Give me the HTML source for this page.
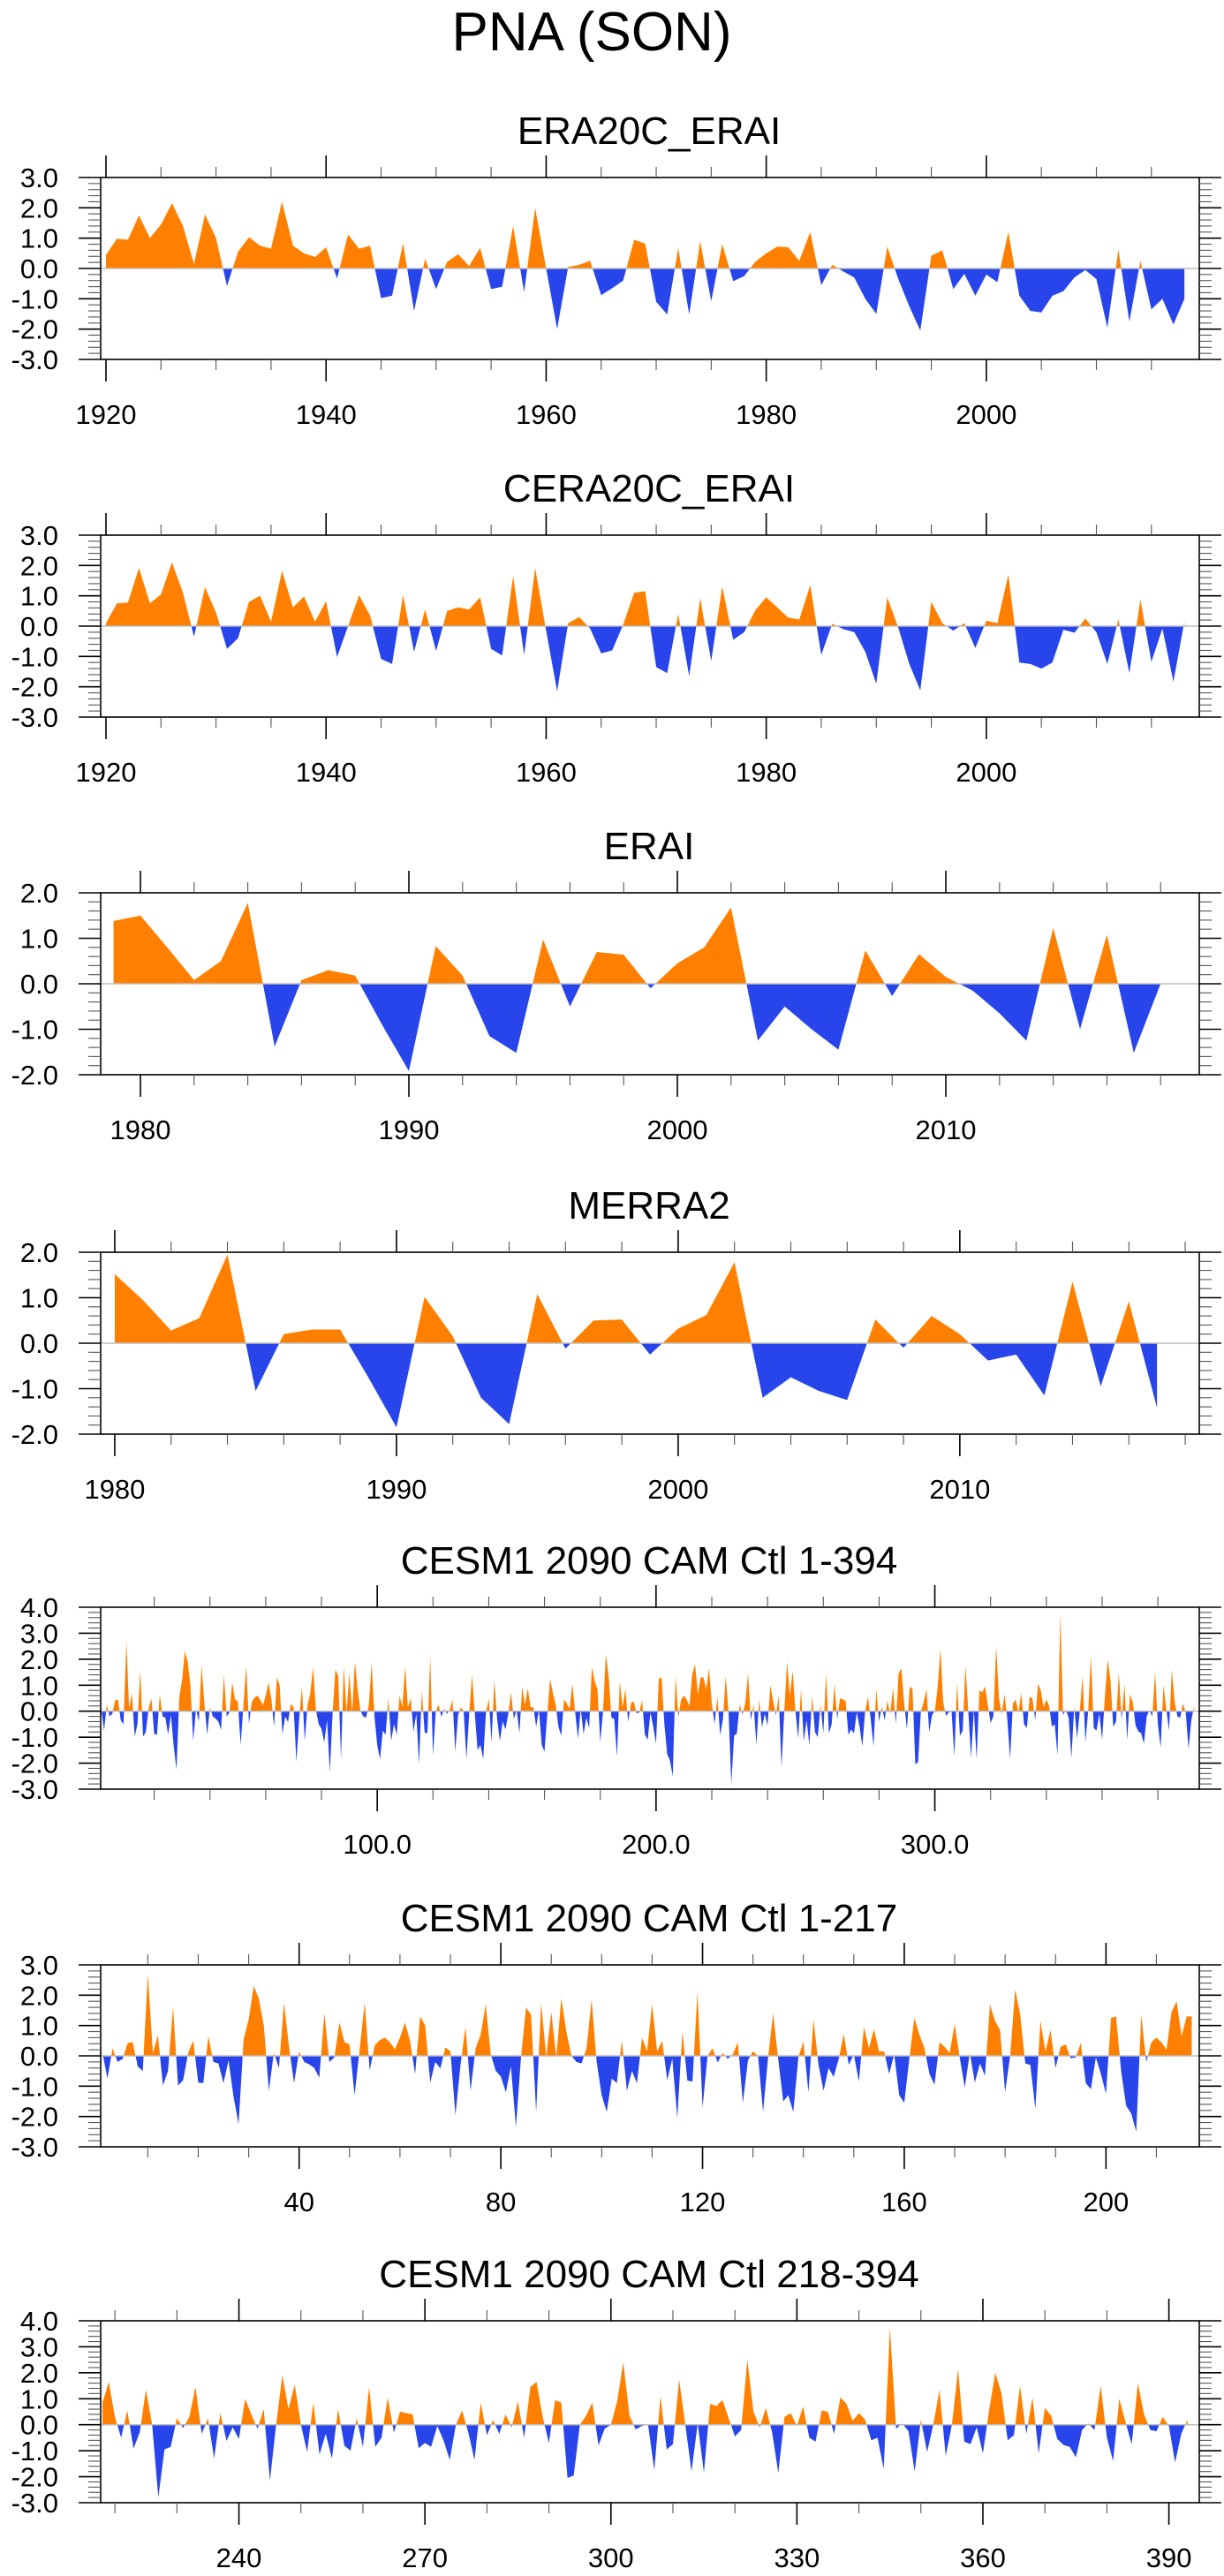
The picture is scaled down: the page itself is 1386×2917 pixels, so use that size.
<!DOCTYPE html>
<html><head><meta charset="utf-8"><title>PNA (SON)</title>
<style>
html,body{margin:0;padding:0;background:#fff;}
svg{display:block;font-family:"Liberation Sans",Arial,sans-serif;}
</style></head>
<body>
<svg id="fig" width="1386" height="2917" viewBox="0 0 1386 2917" xmlns="http://www.w3.org/2000/svg">
<rect x="0" y="0" width="1386" height="2917" fill="#fff"/>
<text x="670" y="57" font-size="62" text-anchor="middle" fill="#000">PNA (SON)</text>
</svg>
<script>
// ---------- data ----------
const era20cYears0 = 1920;
const era20cValues = [0.45,0.98,0.95,1.75,1.0,1.45,2.15,1.4,0.15,1.78,1.0,-0.58,0.55,1.03,0.75,0.65,2.2,0.75,0.5,0.38,
0.7,-0.33,1.12,0.65,0.75,-0.98,-0.9,0.83,-1.4,0.32,-0.68,0.22,0.47,0.08,0.68,-0.68,-0.6,1.4,-0.78,2.0,
0.0,-2.0,0.05,0.12,0.25,-0.88,-0.65,-0.4,0.95,0.82,-1.1,-1.52,0.68,-1.52,0.9,-1.08,0.8,-0.42,-0.25,0.22,
0.5,0.72,0.7,0.25,1.2,-0.55,0.12,-0.1,-0.3,-1.0,-1.5,0.72,-0.35,-1.25,-2.05,0.42,0.6,-0.68,-0.18,-0.9,
-0.2,-0.45,1.2,-0.9,-1.4,-1.45,-0.9,-0.75,-0.3,-0.05,-0.35,-1.95,0.62,-1.75,0.25,-1.35,-1.0,-1.85,-1.0];
const cera20cValues = [0.1,0.75,0.78,1.92,0.75,1.05,2.1,1.1,-0.35,1.28,0.45,-0.75,-0.4,0.8,1.0,0.15,1.82,0.62,0.98,0.15,
0.82,-1.02,0.0,1.02,0.35,-1.08,-1.25,1.02,-0.85,0.55,-0.82,0.5,0.62,0.55,0.95,-0.75,-0.97,1.65,-0.95,1.92,
-0.15,-2.15,0.1,0.3,-0.08,-0.9,-0.8,0.05,1.1,1.15,-1.35,-1.55,0.4,-1.65,0.92,-1.15,1.3,-0.45,-0.2,0.52,
0.95,0.62,0.28,0.22,1.35,-0.95,0.08,-0.1,-0.2,-0.85,-1.9,0.95,-0.05,-1.25,-2.12,0.8,0.1,-0.15,0.1,-0.72,
0.18,0.1,1.7,-1.2,-1.25,-1.4,-1.2,-0.12,-0.22,0.25,-0.2,-1.25,0.22,-1.55,0.88,-1.18,-0.08,-1.83,0.15];
const eraiYear0 = 1979;
const eraiValues = [1.38,1.5,0.8,0.08,0.5,1.78,-1.38,0.08,0.3,0.18,-0.9,-1.92,0.83,0.18,-1.15,-1.52,0.97,-0.5,0.7,0.64,
-0.1,0.45,0.8,1.68,-1.25,-0.5,-1.0,-1.45,0.73,-0.27,0.65,0.15,-0.15,-0.65,-1.25,1.23,-1.0,1.08,-1.52,0.0];
const merra2Year0 = 1980;
const merra2Values = [1.52,0.95,0.28,0.55,1.95,-1.05,0.2,0.3,0.3,-0.75,-1.85,1.02,0.15,-1.2,-1.78,1.08,-0.12,0.5,0.52,-0.25,
0.32,0.62,1.78,-1.2,-0.75,-1.05,-1.25,0.52,-0.1,0.6,0.2,-0.38,-0.25,-1.15,1.35,-0.95,0.92,-1.42];
const cesmPart1 = [0.1,-0.75,0.25,-0.2,-0.1,0.42,0.45,-0.35,-0.5,2.7,0.1,0.68,-0.98,-0.5,1.6,-0.98,-0.8,0.1,0.5,-0.88,
-0.9,0.65,-0.2,-0.25,-0.9,-0.15,-1.35,-2.25,0.55,1.2,2.3,1.9,1.0,-1.15,0.1,-0.4,1.75,0.3,-0.9,0.15,
-0.2,-0.28,-0.4,-0.72,1.4,-0.2,-0.05,1.1,0.45,0.38,-1.3,0.2,1.75,-0.48,0.35,0.52,0.6,0.45,0.22,0.6,
1.1,0.5,-0.6,1.3,1.0,-0.88,-0.2,-0.42,0.28,0.15,-1.95,-0.3,0.95,-1.15,0.25,0.7,1.7,0.05,-0.5,-0.68,
-1.2,-0.35,-2.35,-0.05,1.6,1.35,-1.85,1.75,-0.05,1.45,-0.05,1.9,0.8,0.0,-0.2,-0.25,0.25,1.86,-0.2,-1.3,
-1.85,-0.75,-0.9,0.5,-1.15,-0.5,-0.9,0.6,0.15,1.7,0.15,0.5,-0.8,-0.1,-2.05,0.8,-0.82,-0.85,2.1,-1.7,
0.0,0.25,-0.22,0.1,-0.1,0.05,0.45,-1.55,-0.15,0.15,0.0,-1.85,-0.05,1.4,-0.1,-1.5,-1.3,-1.85,-0.05,0.48,
-1.2,1.2,-0.3,-1.15,-0.4,-0.7,-0.1,0.72,-0.3,0.05,-0.85,0.95,0.25,0.88,0.15,0.15,-0.6,0.05,-1.3,-1.55,
-0.1,1.25,0.7,0.25,-0.6,-0.95,0.45,0.3,0.1,1.05,-0.05,-1.05,0.1,-0.88,-0.25,-0.65,1.7,1.15,0.85,-1.2,
0.0,2.2,1.35,-0.25,-0.3,-1.75,1.15,0.15,0.85,-0.4,0.3,0.38,-0.08,-0.05,0.42,-0.9,-1.1,-0.05,-0.6,-1.25,
1.25,1.3,-0.5,-1.65,-1.9,-2.5,1.35,-0.2,0.45,0.6,0.45,0.2,1.45,1.8,0.65,1.3,1.3];
const cesmPart2 = [0.85,1.65,0.3,-0.5,0.55,-0.92,-0.3,1.35,0.0,-2.8,-0.95,-0.85,0.25,-0.12,0.3,1.45,-0.35,0.25,-1.3,0.45,
-0.62,-0.1,-0.55,1.0,0.4,-0.15,0.6,-2.15,0.0,1.9,0.6,1.55,0.0,-1.05,0.85,-1.15,-0.35,-1.3,0.6,-0.8,
-1.0,0.25,-0.85,1.45,-0.85,-0.5,1.05,-0.3,0.5,0.45,0.4,-0.9,-0.7,-0.85,-0.05,-0.6,-1.35,0.0,0.55,-0.3,
-1.35,0.85,-0.4,0.18,-0.35,0.4,-0.1,0.9,-0.5,1.45,1.65,0.3,-0.7,0.95,0.85,-2.05,-1.95,0.0,0.35,0.85,
-0.8,-0.15,0.0,0.9,2.4,0.35,-0.18,-0.05,0.0,-1.75,1.1,-0.95,-0.75,1.75,0.0,-1.8,0.05,-1.85,0.8,0.72,
0.95,0.25,-0.45,-0.2,2.5,0.5,-0.1,0.65,-0.3,-1.85,0.3,0.45,-0.05,0.7,-0.5,-0.65,0.55,0.5,-0.35,1.05,
0.8,0.15,0.45,0.2,-0.6,-0.5,-1.7,3.75,-0.15,0.05,-0.25,-1.8,0.2,-1.05,0.0,1.35,-1.2,0.0,2.15,-0.65,
-0.75,-0.1,-1.1,0.55,2.0,1.2,-0.6,-0.4,1.5,-0.35,1.05,-1.1,0.65,0.35,-0.55,-0.78,-0.85,-1.25,-0.2,0.05,
-0.2,1.5,-0.5,-1.4,1.0,0.1,-0.75,1.6,0.4,-0.2,-0.25,0.3,-0.05,-1.45,-0.35,0.2];
const cesmAll = cesmPart1.concat(cesmPart2);

const yearTicks1 = ["1920","1940","1960","1980","2000"];
const yearTicks3 = ["1980","1990","2000","2010"];
const runTicks5 = ["100.0","200.0","300.0"];
const runTicks6 = ["40","80","120","160","200"];
const runTicks7 = ["240","270","300","330","360","390"];

// ---------- drawing ----------
const NS = "http://www.w3.org/2000/svg";
const svg = document.getElementById('fig');
const BOX_L = 114, BOX_R = 1358, BOX_H = 206;
const ORANGE = "#ff8000", BLUE = "#2845ec";

function mk(tag, attrs, parent){
  const e = document.createElementNS(NS, tag);
  for (const k in attrs) e.setAttribute(k, attrs[k]);
  (parent || svg).appendChild(e);
  return e;
}

function drawPanel(p){
  const g = mk('g', {});
  
  
  const top = p.top, bot = top + BOX_H;
  const xs = v => BOX_L + (v - p.xmin) / (p.xmax - p.xmin) * (BOX_R - BOX_L);
  const ys = v => bot - (v - p.ymin) / (p.ymax - p.ymin) * BOX_H;
  const y0 = ys(0);

  const t = mk('text', {x: 735, y: top - 38, 'font-size': 44, 'text-anchor': 'middle', fill: '#000'}, g);
  t.textContent = p.title;
  
  

  // fill polygon
  let pts = xs(p.x0) + ',' + y0 + ' ';
  p.values.forEach((v, i) => { pts += xs(p.x0 + i * p.dx) + ',' + ys(v) + ' '; });
  pts += xs(p.x0 + (p.values.length - 1) * p.dx) + ',' + y0;
  const cidA = p.name + '-above', cidB = p.name + '-below';
  const defs = mk('defs', {}, g);
  const ca = mk('clipPath', {id: cidA}, defs);
  mk('rect', {x: BOX_L, y: top, width: BOX_R - BOX_L, height: y0 - top}, ca);
  const cb = mk('clipPath', {id: cidB}, defs);
  mk('rect', {x: BOX_L, y: y0, width: BOX_R - BOX_L, height: bot - y0}, cb);
  const pa = mk('polygon', {points: pts, fill: ORANGE, 'clip-path': 'url(#' + cidA + ')'}, g);
  
  
  const pb = mk('polygon', {points: pts, fill: BLUE, 'clip-path': 'url(#' + cidB + ')'}, g);
  
  

  const zl = mk('line', {x1: BOX_L, x2: BOX_R, y1: y0, y2: y0, stroke: '#bdbdbd', 'stroke-width': 1.5}, g);
  
  

  const box = mk('rect', {x: BOX_L, y: top, width: BOX_R - BOX_L, height: BOX_H, fill: 'none', stroke: '#000', 'stroke-width': 1.6}, g);
  
  

  // y ticks
  const nMinor = Math.round((p.ymax - p.ymin) / 0.2);
  for (let k = 0; k <= nMinor; k++){
    const v = p.ymin + k * 0.2;
    const yy = ys(v);
    const major = Math.abs(v - Math.round(v)) < 1e-6;
    const len = major ? 25 : 14;
    mk('line', {x1: BOX_L - len, x2: BOX_L, y1: yy, y2: yy, stroke: major ? '#000' : '#555', 'stroke-width': major ? 1.6 : 1.1}, g);
    mk('line', {x1: BOX_R, x2: BOX_R + len, y1: yy, y2: yy, stroke: major ? '#000' : '#555', 'stroke-width': major ? 1.6 : 1.1}, g);
    if (major){
      const lab = mk('text', {x: 66, y: yy + 11, 'font-size': 31, 'text-anchor': 'end', fill: '#000'}, g);
      lab.textContent = Math.round(v).toFixed(1);
      
      
    }
  }
  // x ticks
  for (let v = Math.ceil(p.xmin / p.minorStep) * p.minorStep; v <= p.xmax; v += p.minorStep){
    const xx = xs(v);
    const major = Math.abs(v / p.majorStep - Math.round(v / p.majorStep)) < 1e-6;
    const len = major ? 25 : 12;
    mk('line', {x1: xx, x2: xx, y1: top - len, y2: top, stroke: major ? '#000' : '#555', 'stroke-width': major ? 1.6 : 1.1}, g);
    mk('line', {x1: xx, x2: xx, y1: bot, y2: bot + len, stroke: major ? '#000' : '#555', 'stroke-width': major ? 1.6 : 1.1}, g);
  }
  p.labels.forEach(s => {
    const lab = mk('text', {x: xs(parseFloat(s)), y: bot + 73, 'font-size': 31, 'text-anchor': 'middle', fill: '#000'}, g);
    lab.textContent = s;
    
    
  });
}

drawPanel({name:'panel-era20c-erai', title:'ERA20C_ERAI', top:201, values:era20cValues, x0:era20cYears0, dx:1,
  xmin:1919.52, xmax:2019.35, ymin:-3, ymax:3, majorStep:20, minorStep:5, labels:yearTicks1});
drawPanel({name:'panel-cera20c-erai', title:'CERA20C_ERAI', top:606, values:cera20cValues, x0:era20cYears0, dx:1,
  xmin:1919.52, xmax:2019.35, ymin:-3, ymax:3, majorStep:20, minorStep:5, labels:yearTicks1});
drawPanel({name:'panel-erai', title:'ERAI', top:1011, values:eraiValues, x0:eraiYear0, dx:1,
  xmin:1978.52, xmax:2019.44, ymin:-2, ymax:2, majorStep:10, minorStep:2, labels:yearTicks3});
drawPanel({name:'panel-merra2', title:'MERRA2', top:1418, values:merra2Values, x0:merra2Year0, dx:1,
  xmin:1979.5, xmax:2018.5, ymin:-2, ymax:2, majorStep:10, minorStep:2, labels:yearTicks3});
drawPanel({name:'panel-cesm-1-394', title:'CESM1 2090 CAM Ctl 1-394', top:1820, values:cesmAll, x0:1, dx:1,
  xmin:0.8, xmax:394.85, ymin:-3, ymax:4, majorStep:100, minorStep:20, labels:runTicks5});
drawPanel({name:'panel-cesm-1-217', title:'CESM1 2090 CAM Ctl 1-217', top:2225, values:cesmPart1, x0:1, dx:1,
  xmin:0.65, xmax:218.5, ymin:-3, ymax:3, majorStep:40, minorStep:10, labels:runTicks6});
drawPanel({name:'panel-cesm-218-394', title:'CESM1 2090 CAM Ctl 218-394', top:2628, values:cesmPart2, x0:218, dx:1,
  xmin:217.7, xmax:394.9, ymin:-3, ymax:4, majorStep:30, minorStep:10, labels:runTicks7});
</script>
</body></html>
